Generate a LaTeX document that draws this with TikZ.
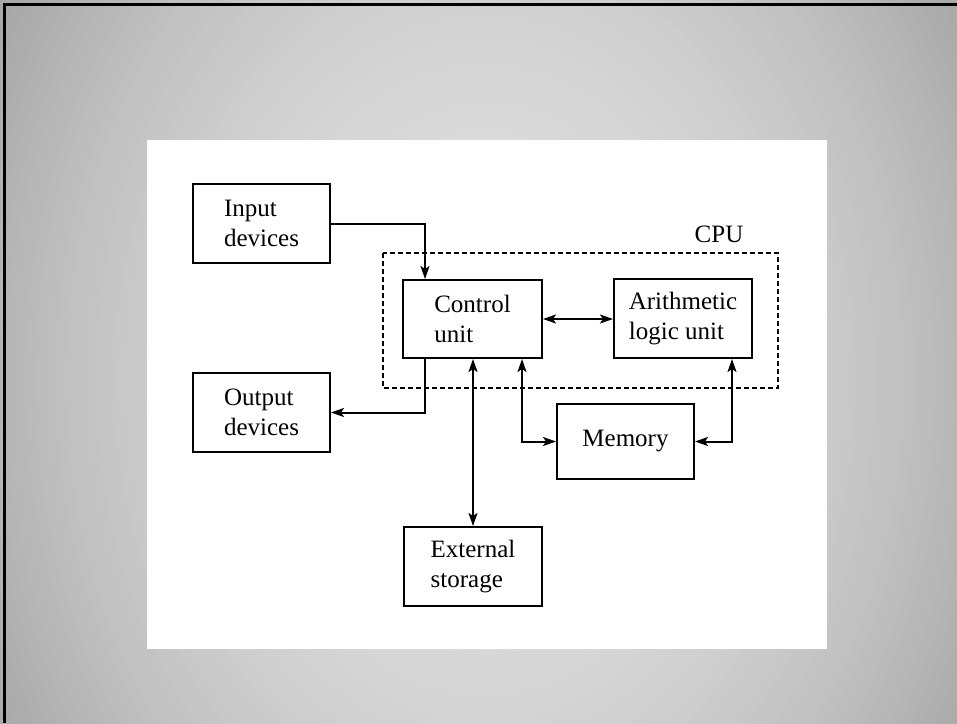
\documentclass[tikz,border=0pt]{standalone}
\usepackage{fontspec}
\setmainfont{Liberation Serif}
\usetikzlibrary{arrows.meta}
\tikzset{
  box/.style={draw, line width=2pt, minimum width=137pt, minimum height=79pt, align=left, inner sep=0pt, font=\fontsize{25}{30}\selectfont},
  conn/.style={line width=2pt, -{Stealth[length=13pt,width=9pt,inset=3pt]}},
  conn2/.style={line width=2pt, {Stealth[length=13pt,width=9pt,inset=3pt]}-{Stealth[length=13pt,width=9pt,inset=3pt]}},
  cpubox/.style={draw, line width=1.4pt, dash pattern=on 5pt off 3pt}
}
\begin{document}
\begin{tikzpicture}[x=1pt,y=-1pt]
\useasboundingbox (0,0) rectangle (957,723);
\begin{scope}
\clip (0,0) rectangle (957,723);
\foreach \i in {60,59,...,1}{
  \pgfmathsetmacro\rr{\i/60}
  \pgfmathsetmacro\rmid{(\i-0.5)/60}
  \pgfmathsetmacro\g{(224-66*\rmid*\rmid)/255}
  \definecolor{tmpg}{gray}{\g}
  \fill[tmpg] (485,380) ellipse [x radius={600*\rr}, y radius={786*\rr}];
}
\end{scope}
\fill[black] (3,3) rectangle (957,6);
\fill[black] (3,3) rectangle (6,723);
\fill[white] (147,140) rectangle (827,649);
% CPU dashed region
\draw[cpubox] (383,253) rectangle (778,388);
\node[font=\fontsize{25}{30}\selectfont, inner sep=0pt] (cpu) at (719,234) {CPU};
% boxes
\node[box] (inp) at (261.5,223.5) {Input\\devices};
\node[box] (out) at (261.5,412.5) {Output\\devices};
\node[box, minimum width=139pt, minimum height=78pt] (ctl) at (472.5,319) {Control\\unit};
\node[box, minimum width=138pt, minimum height=79pt] (alu) at (683,318.5) {Arithmetic\\logic unit};
\node[box, minimum height=75pt] (mem) at (625.5,441.5) {Memory};
\node[box, minimum width=138pt] (ext) at (473,566.5) {External\\storage};
% connectors
\draw[conn] (inp.east) -| ([xshift=-47.5pt]ctl.north);
\draw[conn] ([xshift=-47.5pt]ctl.south) |- (out.east);
\draw[conn2] (ctl.east) -- (alu.west |- ctl.east);
\draw[conn2] (ext.north) -- (ext.north |- ctl.south);
\draw[conn2] ([xshift=49.5pt]ctl.south) |- (mem.west);
\draw[conn2] ([xshift=49pt]alu.south) |- (mem.east);
\end{tikzpicture}
\end{document}
